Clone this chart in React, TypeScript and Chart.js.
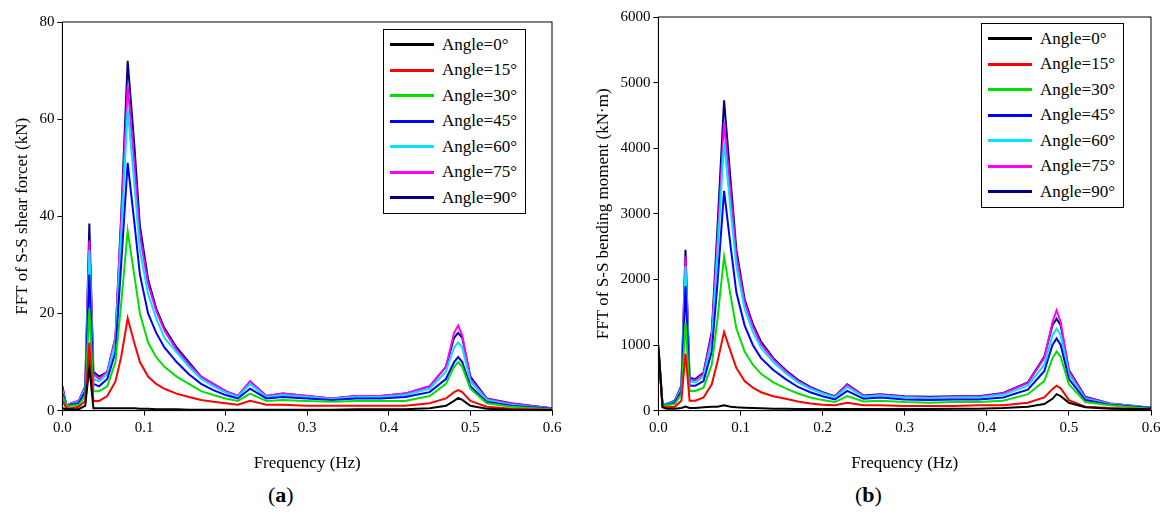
import React, { useEffect, useRef } from "react";
import { Chart, registerables } from "chart.js";
Chart.register(...registerables);

const freq = [0, 0.005, 0.01, 0.02, 0.028, 0.033, 0.038, 0.045, 0.055, 0.065, 0.072, 0.08, 0.088, 0.095, 0.105, 0.115, 0.125, 0.14, 0.155, 0.17, 0.185, 0.2, 0.215, 0.23, 0.25, 0.27, 0.3, 0.33, 0.36, 0.39, 0.42, 0.45, 0.47, 0.48, 0.485, 0.49, 0.5, 0.52, 0.55, 0.6];
const labels = ["Angle=0°", "Angle=15°", "Angle=30°", "Angle=45°", "Angle=60°", "Angle=75°", "Angle=90°"];
const colors = ["#000000", "#ff0000", "#00e000", "#0000ff", "#00e5ff", "#ff00ff", "#000080"];

// (a) shear force, kN
const shear0 = [0.5, 0.3, 0.3, 0.3, 1, 9, 0.5, 0.5, 0.5, 0.5, 0.5, 0.5, 0.5, 0.4, 0.4, 0.3, 0.3, 0.3, 0.2, 0.2, 0.2, 0.2, 0.2, 0.2, 0.2, 0.2, 0.2, 0.2, 0.3, 0.3, 0.3, 0.5, 1, 2, 2.6, 2.2, 1, 0.4, 0.2, 0.1];
const shear15 = [2, 0.5, 0.5, 0.8, 2, 14, 2, 2, 3, 6, 11, 19, 14, 10, 7, 5.5, 4.5, 3.5, 2.8, 2.2, 1.8, 1.5, 1.2, 2, 1.2, 1.2, 1, 1, 1, 1, 1, 1.5, 2.5, 3.8, 4.2, 3.8, 2, 0.8, 0.4, 0.2];
const shear30 = [3, 0.8, 1, 1.2, 3, 21, 4, 4, 5, 10, 22, 37, 28, 20, 14, 11, 9, 7, 5.5, 4, 3.2, 2.5, 2, 3.5, 2, 2.2, 2, 1.8, 2, 2, 2, 3, 5.5, 9, 10, 9, 4.5, 1.5, 0.8, 0.3];
const shear45 = [3.5, 0.8, 1.2, 1.5, 4, 28, 5.5, 5, 6.5, 12, 30, 51, 39, 28, 20, 16, 13, 10, 7.5, 5.5, 4.2, 3.2, 2.5, 4.5, 2.5, 2.8, 2.5, 2.2, 2.5, 2.5, 2.8, 3.8, 6.5, 10, 11, 10, 5, 1.8, 1, 0.4];
const shear60 = [4, 0.9, 1.3, 1.8, 4.5, 33, 6.5, 6, 7.5, 14, 36, 62, 47, 33, 24, 19, 15, 12, 9, 6.5, 5, 3.7, 2.8, 5.5, 2.8, 3.2, 2.8, 2.4, 2.8, 2.8, 3.2, 4.5, 8, 13, 14, 13, 6, 2.2, 1.2, 0.4];
const shear75 = [4.5, 1, 1.4, 2, 5, 35, 7.5, 6.5, 8, 15, 39, 67, 51, 36, 26, 20.5, 16.5, 12.5, 9.5, 7, 5.5, 4, 3, 6, 3, 3.5, 3, 2.5, 3, 3, 3.5, 5, 9, 16, 17.5, 15.5, 6.5, 2.4, 1.4, 0.5];
const shear90 = [5, 1, 1.5, 2, 5, 38.5, 8, 7, 8, 15, 40, 72, 55, 38, 27, 21, 17, 13, 10, 7, 5.5, 4, 3, 6, 3, 3.5, 3, 2.5, 3, 3, 3.5, 5, 9, 15, 16, 15, 7, 2.5, 1.5, 0.5];

// (b) bending moment, kN·m
const bend0 = [1000, 50, 30, 30, 40, 60, 40, 40, 50, 60, 60, 80, 60, 50, 45, 40, 35, 30, 30, 25, 25, 25, 25, 25, 25, 25, 25, 25, 30, 30, 40, 60, 100, 180, 250, 220, 120, 50, 30, 20];
const bend15 = [900, 60, 50, 60, 150, 870, 150, 150, 200, 400, 750, 1200, 900, 650, 450, 350, 280, 220, 180, 140, 110, 90, 80, 120, 80, 80, 70, 70, 70, 80, 80, 120, 200, 330, 380, 340, 160, 60, 40, 20];
const bend30 = [950, 80, 80, 100, 250, 1350, 300, 300, 350, 700, 1400, 2350, 1750, 1250, 900, 700, 560, 430, 340, 260, 200, 160, 130, 220, 140, 150, 130, 120, 130, 130, 150, 250, 450, 800, 900, 820, 400, 130, 80, 30];
const bend45 = [950, 90, 90, 120, 300, 1900, 380, 380, 450, 900, 1950, 3350, 2500, 1800, 1300, 1000, 800, 620, 480, 360, 280, 220, 170, 300, 180, 200, 170, 160, 170, 170, 200, 320, 600, 1000, 1100, 1000, 480, 160, 90, 40];
const bend60 = [950, 100, 100, 130, 340, 2200, 450, 430, 520, 1050, 2400, 4100, 3050, 2200, 1550, 1200, 950, 740, 570, 430, 330, 260, 200, 360, 210, 230, 200, 190, 200, 200, 240, 380, 700, 1150, 1250, 1150, 550, 180, 100, 40];
const bend75 = [950, 100, 100, 140, 360, 2350, 480, 460, 560, 1150, 2600, 4400, 3300, 2350, 1650, 1280, 1010, 780, 600, 450, 350, 270, 210, 390, 220, 240, 210, 200, 210, 210, 260, 420, 800, 1350, 1530, 1350, 600, 200, 110, 45];
const bend90 = [950, 100, 100, 150, 380, 2450, 500, 480, 580, 1200, 2800, 4730, 3500, 2450, 1700, 1320, 1050, 800, 620, 470, 360, 280, 220, 400, 230, 250, 220, 210, 220, 220, 270, 430, 820, 1300, 1400, 1300, 620, 210, 110, 45];

const shearSeries = [shear0, shear15, shear30, shear45, shear60, shear75, shear90];
const bendSeries = [bend0, bend15, bend30, bend45, bend60, bend75, bend90];

const FONT = "'Liberation Serif', 'DejaVu Serif', serif";

const boxPlugin = {
  id: "box",
  afterDraw(chart: any) {
    const { ctx, chartArea: a } = chart;
    ctx.save();
    ctx.strokeStyle = "#000";
    ctx.lineWidth = 1;
    ctx.strokeRect(a.left, a.top, a.right - a.left, a.bottom - a.top);
    ctx.restore();
  },
};

function Panel({ series, ymax, ystep, ytitle, left, width, padTop, padLeft }: any) {
  const ref = useRef<HTMLCanvasElement>(null);
  useEffect(() => {
    const chart = new Chart(ref.current!, {
      type: "line",
      data: {
        datasets: series.map((s: number[], i: number) => ({
          label: labels[i],
          data: freq.map((f, j) => ({ x: f, y: s[j] })),
          borderColor: colors[i],
          borderWidth: 2,
          pointRadius: 0,
          tension: 0,
        })),
      },
      options: {
        animation: false,
        responsive: true,
        maintainAspectRatio: false,
        layout: { padding: { top: padTop, right: 18, left: padLeft } },
        plugins: { legend: { display: false }, tooltip: { enabled: false } },
        scales: {
          x: {
            type: "linear", min: 0, max: 0.6,
            ticks: { stepSize: 0.1, color: "#000", font: { family: FONT, size: 15 }, callback: (v: any) => Number(v).toFixed(1) },
            grid: { drawOnChartArea: false, tickLength: 5, color: "#000" },
            border: { color: "#000" },
            title: { display: true, text: "Frequency (Hz)", color: "#000", font: { family: FONT, size: 17 }, padding: { top: 14 } },
          },
          y: {
            min: 0, max: ymax,
            ticks: { stepSize: ystep, color: "#000", font: { family: FONT, size: 15 }, callback: (v: any) => String(v) },
            grid: { drawOnChartArea: false, tickLength: 5, color: "#000" },
            border: { color: "#000" },
            title: { display: true, text: ytitle, color: "#000", font: { family: FONT, size: 17 } },
          },
        },
      },
      plugins: [boxPlugin],
    });
    return () => chart.destroy();
  }, []);
  return (
    <div style={{ position: "absolute", left, top: 0, width, height: 478 }}>
      <canvas ref={ref} />
    </div>
  );
}

function Legend({ left, top }: any) {
  return (
    <div style={{ position: "absolute", left, top, border: "1px solid #000", background: "#fff", padding: "2px 8px 2px 6px", fontFamily: FONT, fontSize: 17 }}>
      {labels.map((l, i) => (
        <div key={l} style={{ display: "flex", alignItems: "center", height: 25.5 }}>
          <span style={{ display: "inline-block", width: 44, height: 3, background: colors[i], marginRight: 8 }} />
          {l}
        </div>
      ))}
    </div>
  );
}

export default function App() {
  return (
    <div style={{ position: "absolute", left: 0, top: 0, width: 1169, height: 522, background: "#fff" }}>
      <Panel series={shearSeries} ymax={80} ystep={20} ytitle="FFT of S-S shear forcet (kN)" left={0} width={570} padTop={22} padLeft={8} />
      <Panel series={bendSeries} ymax={6000} ystep={1000} ytitle="FFT of S-S bending moment (kN·m)" left={585} width={584} padTop={17} padLeft={4} />
      <Legend left={383} top={29} />
      <Legend left={981} top={23} />
      <div style={{ position: "absolute", left: 268, top: 482, fontFamily: FONT, fontSize: 22 }}>(<b>a</b>)</div>
      <div style={{ position: "absolute", left: 855, top: 482, fontFamily: FONT, fontSize: 22 }}>(<b>b</b>)</div>
    </div>
  );
}
